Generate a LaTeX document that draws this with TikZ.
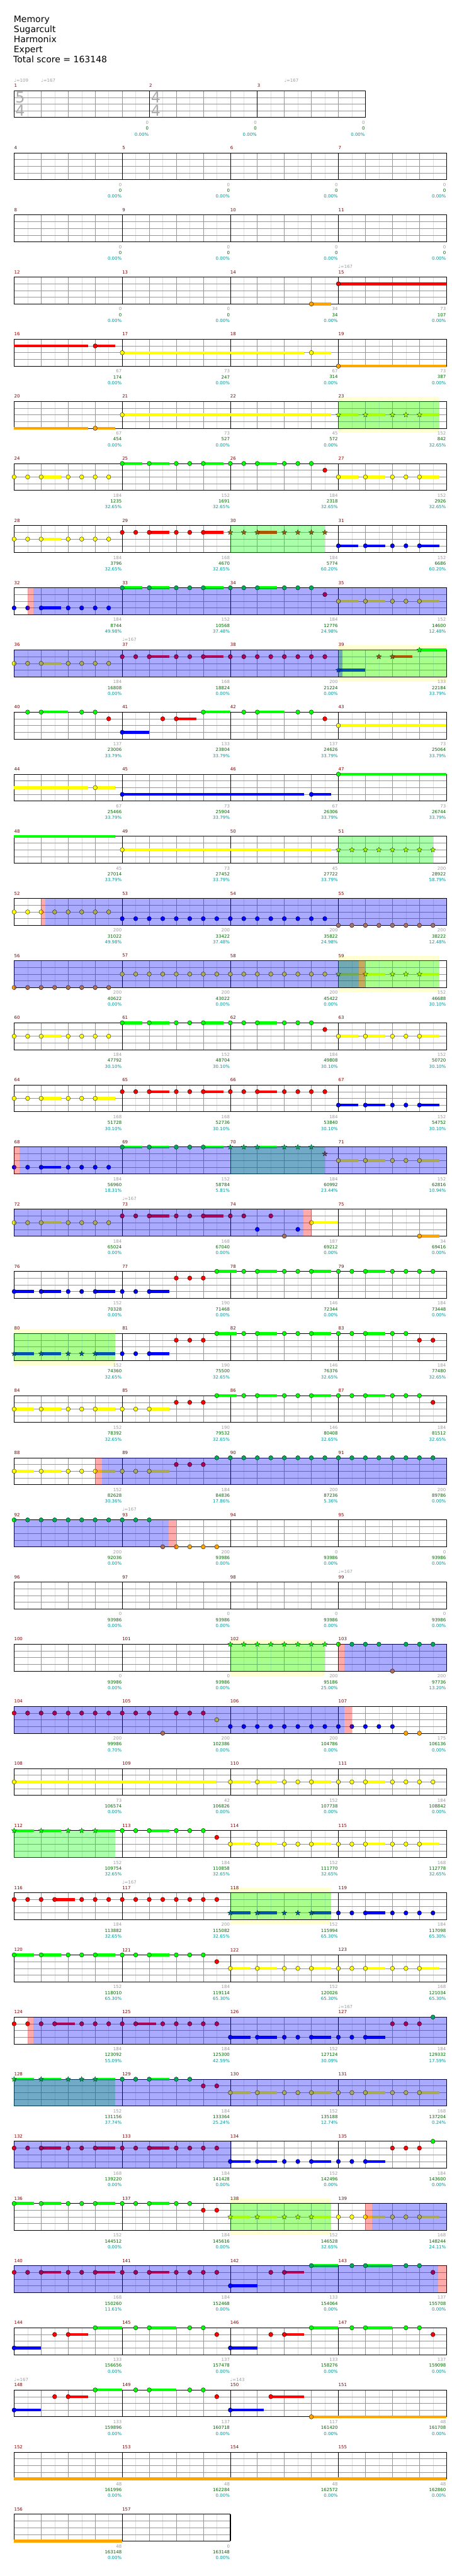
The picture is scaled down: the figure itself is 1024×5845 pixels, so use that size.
\documentclass[tikz,border=0pt]{standalone}
\usepackage{fontspec}
\setmainfont{DejaVu Sans}
\usetikzlibrary{shapes.geometric}

\definecolor{gemgreen}{RGB}{0,255,0}
\definecolor{gemred}{RGB}{255,0,0}
\definecolor{gemyellow}{RGB}{255,255,0}
\definecolor{gemblue}{RGB}{0,0,255}
\definecolor{gemorange}{RGB}{255,165,0}
\definecolor{barred}{RGB}{128,0,0}
\definecolor{lightline}{RGB}{222,222,222}
\definecolor{midline}{RGB}{150,150,150}
\definecolor{beatgrey}{RGB}{155,155,155}
\definecolor{totalgreen}{RGB}{0,100,0}
\definecolor{pctteal}{RGB}{0,150,150}
\definecolor{phrasepale}{RGB}{255,255,210}
\definecolor{sigrey}{RGB}{170,170,170}

\newcommand\smallfont{\fontsize{10}{12}\selectfont}
% lane -> gem colour
\newcommand\lanecolor[1]{\ifcase#1 gemgreen\or gemred\or gemyellow\or gemblue\or gemorange\fi}
% phrase / overdrive / activation ranges of the current row
\newcommand\clearregions{\def\palerange{-9/-9}\def\sprange{-9/-9}\def\odrange{-9/-9}\def\pinkrange{-9/-9}}

\newcommand\starcheck[1]{%
  \gdef\isstar{0}%
  \foreach \sa/\sb in \sprange {%
    \pgfmathparse{and(#1>=\sa-0.01,#1<=\sb+0.01)}%
    \ifdim\pgfmathresult pt>0.5pt\gdef\isstar{1}\fi}}

\newcommand\gem[2]{%
  \edef\gemcol{\lanecolor{#2}}%
  \starcheck{#1}%
  \ifnum\isstar=1
    \node[starnote,fill=\gemcol] at (#1,#2) {};
  \else
    \filldraw[gemnote,fill=\gemcol] (#1,#2) ellipse [x radius=4.8pt,y radius=5pt];
  \fi}

\newcommand\gemtint[3]{%
  \starcheck{#1}%
  \ifnum\isstar=1
    \node[starnote,draw=none,fill=#3,fill opacity=0.333] at (#1,#2) {};
  \else
    \fill[#3,fill opacity=0.333] (#1,#2) ellipse [x radius=4.8pt,y radius=5pt];
  \fi}

\newcommand\staffgrid[2]{%
  \foreach \i in {0.5,1.5,...,#1} \draw[gridlight] (\i,0) -- (\i,4);
  \foreach \i in {1,...,#1} \draw[gridmid] (\i,0) -- (\i,4);
  \foreach \j in {1,2,3} \draw[gridmid] (0,\j) -- (#1,\j);
  \foreach \i in {#2} \draw[barline] (\i,0) -- (\i,4);
  \draw[staffframe] (0,0) rectangle (#1,4);}

\newcommand\barscore[6]{%
  \node[barlabel] at (#1,-0.75) {#3};
  \node[beatscore] at (#2,4.75) {#4};
  \node[runscore] at (#2,5.62) {#5};
  \node[pctscore] at (#2,6.49) {#6\%};}

\newcommand\tempomark[3]{\node[tempolabel] at ({32+61.25*#2},{346.7+141*(#1-1)-23.6}) {♩=#3};}

% row, first bar, beats, sustains, gems, scores
\newcommand\chartrow[6]{%
\begin{scope}[shift={(32,{346.7+141*(#1-1)})},x=61.25pt,y=-15.25pt]
  \foreach \ra/\rb in \palerange {\fill[phrasepale] (\ra,-0.7) rectangle (\rb,4.7);}
  \staffgrid{#3}{4,8,...,#3}
  \foreach \ra/\rb/\l in {#4} {\edef\gemcol{\lanecolor{\l}}\fill[\gemcol] (\ra,\l-0.21) rectangle (\rb,\l+0.21);}
  \foreach \ra/\rb in \sprange {\fill[gemgreen,fill opacity=0.333] (\ra,0) rectangle (\rb,4);}
  \foreach \ra/\rb in \odrange {\fill[gemblue,fill opacity=0.333] (\ra,0) rectangle (\rb,4);}
  \foreach \ra/\rb in \pinkrange {\fill[gemred,fill opacity=0.333] (\ra,0) rectangle (\rb,4);}
  \foreach \l/\bs in {#5} {\foreach \p in \bs {\gem{\p}{\l}}}
  \foreach \ra/\rb in \sprange {\begin{scope}\clip (\ra-0.1,-1) rectangle (\rb+0.1,5);
    \foreach \l/\bs in {#5} {\foreach \p in \bs {\gemtint{\p}{\l}{gemgreen}}}\end{scope}}
  \foreach \ra/\rb in \odrange {\begin{scope}\clip (\ra,-1) rectangle (\rb,5);
    \foreach \l/\bs in {#5} {\foreach \p in \bs {\gemtint{\p}{\l}{gemblue}}}\end{scope}}
  \foreach \ra/\rb in \pinkrange {\begin{scope}\clip (\ra,-1) rectangle (\rb,5);
    \foreach \l/\bs in {#5} {\foreach \p in \bs {\gemtint{\p}{\l}{gemred}}}\end{scope}}
  \foreach \bsc/\tsc/\psc [count=\idx from 0] in {#6} {%
    \pgfmathtruncatemacro\mnum{#2+\idx}%
    \barscore{4*\idx}{4*\idx+4}{\mnum}{\bsc}{\tsc}{\psc}}
\end{scope}}

\begin{document}
\begin{tikzpicture}[x=1pt,y=-1pt,
  titleline/.style={anchor=base west,inner sep=0pt,font=\fontsize{20}{24}\selectfont},
  barlabel/.style={anchor=west,inner sep=0pt,text=barred,font=\smallfont},
  beatscore/.style={anchor=east,inner sep=0pt,xshift=-1pt,text=beatgrey,font=\smallfont},
  runscore/.style={anchor=east,inner sep=0pt,xshift=-1pt,text=totalgreen,font=\smallfont},
  pctscore/.style={anchor=east,inner sep=0pt,xshift=-1pt,text=pctteal,font=\smallfont},
  tempolabel/.style={anchor=west,inner sep=0pt,text=beatgrey,font=\smallfont},
  timesig/.style={anchor=west,inner sep=0pt,text=sigrey,font=\fontsize{34}{34}\selectfont},
  gemnote/.style={draw=black,line width=0.5pt},
  starnote/.style={star,star points=5,star point ratio=2.3,minimum size=12pt,inner sep=0pt,draw=black,line width=0.4pt},
  gridlight/.style={lightline,line width=0.5pt},
  gridmid/.style={midline,line width=0.8pt},
  barline/.style={black,line width=0.8pt},
  staffframe/.style={black,line width=1.2pt}]
\useasboundingbox (0,0) rectangle (1024,5845);

% header
\node[titleline] at (31,50) {Memory};
\node[titleline] at (31,73) {Sugarcult};
\node[titleline] at (31,96) {Harmonix};
\node[titleline] at (31,119) {Expert};
\node[titleline] at (30,142) {Total score = 163148};

% bars 1-3
\begin{scope}[shift={(32,205.7)},x=61.25pt,y=-15.25pt]
  \staffgrid{13}{5,9}
  \node[timesig] at (0.04,1) {5};
  \node[timesig] at (0.04,3) {4};
  \node[timesig] at (5.06,1) {4};
  \node[timesig] at (5.06,3) {4};
  \barscore{0}{5}{1}{0}{0}{0.00}
  \barscore{5}{9}{2}{0}{0}{0.00}
  \barscore{9}{13}{3}{0}{0}{0.00}
\end{scope}
\tempomark{0}{0}{109}\tempomark{0}{1}{167}\tempomark{0}{10}{167}

\clearregions
\chartrow{1}{4}{16}{-20/-20/0}{0/{-20}}{0/0/0.00, 0/0/0.00, 0/0/0.00, 0/0/0.00}
\chartrow{2}{8}{16}{-20/-20/0}{0/{-20}}{0/0/0.00, 0/0/0.00, 0/0/0.00, 0/0/0.00}
\chartrow{3}{12}{16}{11/11.74/4, 12/16/1}{4/{11}, 1/{12}}{0/0/0.00, 0/0/0.00, 34/34/0.00, 73/107/0.00}
\tempomark{3}{12}{167}
\chartrow{4}{16}{16}{0/2.74/1, 3/3.74/1, 4/10.74/2, 11/11.74/2, 12/16/4}{1/{3}, 2/{4,11}, 4/{12}}{67/174/0.00, 73/247/0.00, 67/314/0.00, 73/387/0.00}

\clearregions\def\palerange{12/15.75}\def\sprange{12/15.75}
\chartrow{5}{20}{16}{0/2.74/4, 3/3.74/4, 4/11.74/2, 12/12.74/2, 13/13.74/2, 15/15.75/2}{4/{3}, 2/{4,12,13,14,14.5,15}}{67/454/0.00, 73/527/0.00, 45/572/0.00, 152/842/32.65}

\clearregions
\chartrow{6}{24}{16}{1/1.74/2, 4/4.74/0, 5/5.74/0, 7/7.74/0, 9/9.74/0, 12/12.74/2, 13/13.74/2, 15/15.74/2}{2/{0,0.5,1,2,2.5,3,3.5,12,13,14,14.5,15}, 0/{4,5,6,6.5,7,8,8.5,9,10,10.5,11}, 1/{11.5}}{184/1235/32.65, 152/1691/32.65, 184/2318/32.65, 152/2926/32.65}

\clearregions\def\sprange{8/11.5}
\chartrow{7}{28}{16}{1/1.74/2, 5/5.74/1, 7/7.74/1, 9/9.74/1, 12/12.74/3, 13/13.74/3, 15/15.74/3}{2/{0,0.5,1,2,2.5,3,3.5}, 1/{4,4.5,5,6,6.5,7,8,8.5,9,10,10.5,11,11.5}, 3/{12,13,14,14.5,15}}{184/3796/32.65, 168/4670/32.65, 184/5774/60.20, 152/6686/60.20}

\clearregions\def\pinkrange{0.5/0.71}\def\odrange{0.71/16}
\chartrow{8}{32}{16}{1/1.74/3, 4/4.74/0, 5/5.74/0, 7/7.74/0, 9/9.74/0, 12/12.74/2, 13/13.74/2, 15/15.74/2}{3/{0,0.5,1,2,2.5,3,3.5}, 0/{4,5,6,6.5,7,8,8.5,9,10,10.5,11}, 1/{11.5}, 2/{12,13,14,14.5,15}}{184/8744/49.98, 152/10568/37.48, 184/12776/24.98, 152/14600/12.48}

\clearregions\def\odrange{0/12.14}\def\sprange{12/16}\def\palerange{12/16}
\chartrow{9}{36}{16}{1/1.74/2, 5/5.74/1, 7/7.74/1, 12/13/3, 14/14.74/1, 15/16/0}{2/{0,0.5,1,2,2.5,3,3.5}, 1/{4,4.5,5,6,6.5,7,8,8.5,9,9.5,10,10.5,11,11.5,13.5,14}, 3/{12}, 0/{15}}{184/16808/0.00, 168/18824/0.00, 200/21224/0.00, 133/22184/33.79}
\tempomark{9}{4}{167}

\clearregions
\chartrow{10}{40}{16}{1/2/0, 4/5/3, 6/6.75/1, 7/8/0, 9/10/0, 12/16/2}{0/{0.5,1,2.5,3,7,8.5,9,10.5,11}, 1/{3.5,5.5,6,11.5}, 3/{4}, 2/{12}}{137/23006/33.79, 133/23804/33.79, 137/24626/33.79, 73/25064/33.79}
\chartrow{11}{44}{16}{0/2.74/2, 3/3.74/2, 4/10.74/3, 11/11.74/3, 12/16/0}{2/{3}, 3/{4,11}, 0/{12}}{67/25466/33.79, 73/25904/33.79, 67/26306/33.79, 73/26744/33.79}

\clearregions\def\sprange{12/15.5}
\chartrow{12}{48}{16}{0/3.74/0, 4/11.74/2}{2/{4,12,12.5,13,13.5,14,14.5,15,15.5}}{45/27014/33.79, 73/27452/33.79, 45/27722/33.79, 200/28922/58.79}

\clearregions\def\pinkrange{1/1.16}\def\odrange{1.16/16}
\chartrow{13}{52}{16}{-20/-20/0}{2/{0,0.5,...,3.5}, 3/{4,4.5,...,11.5}, 4/{12,12.5,...,15.5}}{200/31022/49.98, 200/33422/37.48, 200/35822/24.98, 200/38222/12.48}

\clearregions\def\odrange{0/12.75}\def\pinkrange{12.75/13}\def\sprange{12/15.75}\def\palerange{12/15.75}
\chartrow{14}{56}{16}{12/12.75/2, 13/13.74/2, 15/15.75/2}{4/{0,0.5,...,3.5}, 2/{4,4.5,...,11.5}, 2/{12,13,14,14.5,15}}{200/40622/0.00, 200/43022/0.00, 200/45422/0.00, 152/46688/30.10}

\clearregions
\chartrow{15}{60}{16}{1/1.74/2, 4/4.74/0, 5/5.74/0, 7/7.74/0, 9/9.74/0, 12/12.74/2, 13/13.74/2, 15/15.74/2}{2/{0,0.5,1,2,2.5,3,3.5,12,13,14,14.5,15}, 0/{4,5,6,6.5,7,8,8.5,9,10,10.5,11}, 1/{11.5}}{184/47792/30.10, 152/48704/30.10, 184/49808/30.10, 152/50720/30.10}
\chartrow{16}{64}{16}{1/1.74/2, 3/3.74/2, 5/5.74/1, 7/7.74/1, 9/9.74/1, 12/12.74/3, 13/13.74/3, 15/15.74/3}{2/{0,0.5,1,2,2.5,3}, 1/{4,4.5,5,6,6.5,7,8,8.5,9,10,10.5,11,11.5}, 3/{12,13,14,14.5,15}}{168/51728/30.10, 168/52736/30.10, 184/53840/30.10, 152/54752/30.10}

\clearregions\def\pinkrange{0/0.21}\def\odrange{0.21/16}\def\sprange{8/11.5}
\chartrow{17}{68}{16}{1/1.74/3, 4/4.74/0, 5/5.74/0, 7/7.74/0, 9/9.74/0, 12/12.74/2, 13/13.74/2, 15/15.74/2}{3/{0,0.5,1,2,2.5,3,3.5}, 0/{4,5,6,6.5,7,8,8.5,9,10,10.5,11}, 1/{11.5}, 2/{12,13,14,14.5,15}}{184/56960/18.31, 152/58784/5.81, 184/60992/23.44, 152/62816/10.94}

\clearregions\def\odrange{0/10.7}\def\pinkrange{10.7/11}
\chartrow{18}{72}{16}{1/1.74/2, 5/5.74/1, 7/7.74/1, 11/12/2, 15/15.75/4}{2/{0,0.5,1,2,2.5,3,3.5,11}, 1/{4,4.5,5,6,6.5,7,8,8.5,9.5}, 3/{9,10.5}, 4/{10,15}}{184/65024/0.00, 168/67040/0.00, 187/69212/0.00, 34/69416/0.00}
\tempomark{18}{4}{167}

\clearregions
\chartrow{19}{76}{16}{0/0.74/3, 1/1.74/3, 3/3.74/3, 5/5.74/3, 7.5/8.24/0, 9/9.74/0, 11/11.74/0, 13/13.74/0}{3/{0,1,2,2.5,3,4,4.5,5}, 1/{6,6.5,7}, 0/{7.5,8.5,9,10,10.5,11,12,12.5,13,14,14.5,15,15.5}}{152/70328/0.00, 190/71468/0.00, 146/72344/0.00, 184/73448/0.00}

\clearregions\def\sprange{0/3.74}\def\palerange{0/3.74}
\chartrow{20}{80}{16}{0/0.74/3, 1/1.74/3, 3/3.74/3, 5/5.74/3, 7.5/8.24/0, 9/9.74/0, 11/11.74/0, 13/13.74/0}{3/{0,1,2,2.5,3,4,4.5,5}, 1/{6,6.5,7,15,15.5}, 0/{7.5,8.5,9,10,10.5,11,12,12.5,13,14,14.5}}{152/74360/32.65, 190/75500/32.65, 146/76376/32.65, 184/77480/32.65}

\clearregions
\chartrow{21}{84}{16}{0/0.74/2, 1/1.74/2, 3/3.74/2, 5/5.74/2, 7.5/8.24/0, 9/9.74/0, 11/11.74/0, 13/13.74/0}{2/{0,1,2,2.5,3,4,4.5,5}, 1/{6,6.5,7,15.5}, 0/{7.5,8.5,9,10,10.5,11,12,12.5,13,14,14.5,15}}{152/78392/32.65, 190/79532/32.65, 146/80408/32.65, 184/81512/32.65}

\clearregions\def\pinkrange{3/3.26}\def\odrange{3.26/16}
\chartrow{22}{88}{16}{0/0.74/2, 1/1.74/2, 3/3.74/2, 5/5.74/2}{2/{0,1,2,2.5,3,4,4.5,5}, 1/{6,6.5,7}, 0/{7.5,8,...,15.5}}{152/82628/30.36, 184/84836/17.86, 200/87236/5.36, 200/89786/0.00}

\clearregions\def\odrange{0/5.71}\def\pinkrange{5.71/6}
\chartrow{23}{92}{16}{-20/-20/0}{0/{0,0.5,...,5}, 4/{5.5,6,6.5,7,7.5}}{200/92036/0.00, 200/93986/0.00, 0/93986/0.00, 0/93986/0.00}
\tempomark{23}{4}{167}

\clearregions
\chartrow{24}{96}{16}{-20/-20/0}{0/{-20}}{0/93986/0.00, 0/93986/0.00, 0/93986/0.00, 0/93986/0.00}
\tempomark{24}{12}{167}

\clearregions\def\sprange{8/11.5}\def\palerange{8/11.5}\def\pinkrange{12/12.22}\def\odrange{12.22/16}
\chartrow{25}{100}{16}{-20/-20/0}{0/{8,8.5,...,11.5}, 0/{12,12.5,13,13.5,14.5,15,15.5}, 4/{14}}{0/93986/0.00, 0/93986/0.00, 200/95186/25.00, 200/97736/13.20}

\clearregions\def\odrange{0/12.22}\def\pinkrange{12.22/12.5}
\chartrow{26}{104}{16}{-20/-20/0}{1/{0,0.5,...,5}, 1/{6,6.5,7}, 4/{5.5,14.5,15}, 2/{7.5}, 3/{8,8.5,...,14}}{200/99986/0.70, 200/102386/0.00, 200/104786/0.00, 175/106136/0.00}

\clearregions
\chartrow{27}{108}{16}{0/7.5/2, 8/8.74/2, 9/9.74/2, 11/11.74/2, 13/13.74/2}{2/{0,8,9,10,10.5,11,12,12.5,13,14,14.5,15,15.5}}{73/106574/0.00, 42/106826/0.00, 152/107738/0.00, 184/108842/0.00}

\clearregions\def\sprange{0/3.74}
\chartrow{28}{112}{16}{0/0.74/0, 1/1.74/0, 3/3.74/0, 5/5.74/0, 8/8.74/2, 9/9.74/2, 11/11.74/2, 13/13.74/2, 15/15.74/2}{0/{0,1,2,2.5,3,4,4.5,5,6,6.5,7}, 1/{7.5}, 2/{8,9,10,10.5,11,12,12.5,13,14,14.5,15}}{152/109754/32.65, 184/110858/32.65, 152/111770/32.65, 168/112778/32.65}

\clearregions\def\sprange{8/11.74}\def\palerange{8/11.74}
\chartrow{29}{116}{16}{1.5/2.24/1, 8/8.74/3, 9/9.74/3, 11/11.74/3, 13/13.74/3}{1/{0,0.5,1,1.5,2.5,3,3.5,4,4.5,5,5.5,6,6.5,7,7.5}, 3/{8,9,10,10.5,11,12,12.5,13,14,14.5,15,15.5}}{184/113882/32.65, 200/115082/32.65, 152/115994/65.30, 184/117098/65.30}
\tempomark{29}{4}{167}

\clearregions
\chartrow{30}{120}{16}{0/0.74/0, 1/1.74/0, 3/3.74/0, 5/5.74/0, 8/8.74/2, 9/9.74/2, 11/11.74/2, 13/13.74/2, 15/15.74/2}{0/{0,1,2,2.5,3,4,4.5,5,6,6.5,7}, 1/{7.5}, 2/{8,9,10,10.5,11,12,12.5,13,14,14.5,15}}{152/118010/65.30, 184/119114/65.30, 152/120026/65.30, 168/121034/65.30}

\clearregions\def\pinkrange{0.5/0.71}\def\odrange{0.71/16}
\chartrow{31}{124}{16}{1.5/2.24/1, 4.5/5.25/1, 8/8.74/3, 9/9.74/3, 11/11.74/3, 13/13.74/3}{1/{0,0.5,1,1.5,2.5,3,3.5,4,4.5,5.5,6,6.5,7,7.5,14,14.5,15}, 3/{8,9,10,10.5,11,12,12.5,13}, 0/{15.5}}{184/123092/55.09, 184/125300/42.59, 152/127124/30.09, 184/129332/17.59}
\tempomark{31}{12}{167}

\clearregions\def\odrange{0/16}\def\sprange{0/3.74}
\chartrow{32}{128}{16}{0/0.74/0, 1/1.74/0, 3/3.74/0, 5/5.74/0, 8/8.74/2, 9/9.74/2, 11/11.74/2, 13/13.74/2, 15/15.74/2}{0/{0,1,2,2.5,3,4,4.5,5,6,6.5}, 1/{7,7.5}, 2/{8,9,10,10.5,11,12,12.5,13,14,14.5,15}}{152/131156/37.74, 184/133364/25.24, 152/135188/12.74, 168/137204/0.24}

\clearregions\def\odrange{0/8.05}
\chartrow{33}{132}{16}{1/1.74/1, 3/3.74/1, 5/5.74/1, 8/8.74/3, 9/9.74/3, 11/11.74/3, 13/13.74/3}{1/{0,0.5,1,2,2.5,3,4,4.5,5,6,6.5,7,7.5,14,14.5,15}, 3/{8,9,10,10.5,11,12,12.5,13}, 0/{15.5}}{168/139220/0.00, 184/141428/0.00, 152/142496/0.00, 184/143600/0.00}

\clearregions\def\sprange{8/11.74}\def\palerange{8/11.74}\def\pinkrange{13/13.25}\def\odrange{13.25/16}
\chartrow{34}{136}{16}{0/0.74/0, 1/1.74/0, 3/3.74/0, 5/5.74/0, 8/8.74/2, 9/9.74/2, 11/11.74/2, 13/13.74/2, 15/15.74/2}{0/{0,1,2,2.5,3,4,4.5,5,6,6.5}, 1/{7,7.5}, 2/{8,9,10,10.5,11,12,12.5,13,14,14.5,15}}{152/144512/0.00, 184/145616/0.00, 152/146528/32.65, 168/148244/24.11}

\clearregions\def\odrange{0/15.7}\def\pinkrange{15.7/16}
\chartrow{35}{140}{16}{1/1.74/1, 3/3.74/1, 5/5.74/1, 8/9/3, 10/10.74/1, 11/12/0, 13/14/0}{1/{0,0.5,1,2,2.5,3,4,4.5,5,6,6.5,7,7.5,9.5,10,15.5}, 3/{8}, 0/{11,12.5,13,14.5,15}}{168/150260/11.61, 184/152468/0.00, 133/154064/0.00, 137/155708/0.00}

\clearregions
\chartrow{36}{144}{16}{0/1/3, 2/2.74/1, 3/4/0, 5/6/0, 8/9/3, 10/10.74/1, 11/12/0, 13/14/0}{3/{0,8}, 1/{1.5,2,7.5,9.5,10,15.5}, 0/{3,4.5,5,6.5,7,11,12.5,13,14.5,15}}{133/156656/0.00, 137/157478/0.00, 133/158276/0.00, 137/159098/0.00}
\chartrow{37}{148}{16}{0/1/3, 2/2.74/1, 3/4/0, 5/6/0, 8/9.24/3, 9.5/10.74/1, 11/16/4}{3/{0,8}, 1/{1.5,2,7.5,9.5}, 0/{3,4.5,5,6.5,7}, 4/{11}}{133/159896/0.00, 137/160718/0.00, 117/161420/0.00, 48/161708/0.00}
\tempomark{37}{0}{167}\tempomark{37}{8}{143}
\chartrow{38}{152}{16}{0/16/4}{0/{-20}}{48/161996/0.00, 48/162284/0.00, 48/162572/0.00, 48/162860/0.00}
\chartrow{39}{156}{8}{0/4/4}{0/{-20}}{48/163148/0.00, 0/163148/0.00}
\end{tikzpicture}
\end{document}
